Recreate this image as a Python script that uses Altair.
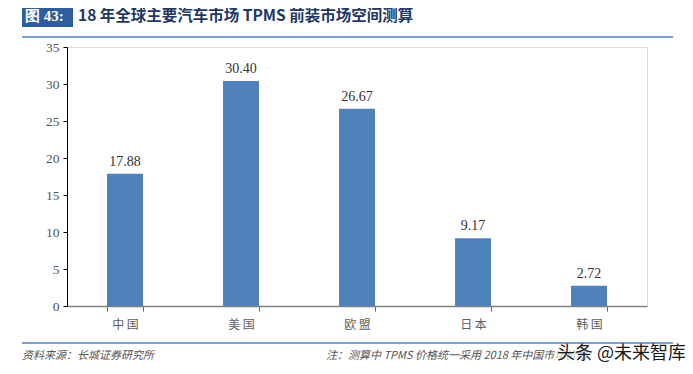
import altair as alt
import pandas as pd

categories = ["中国", "美国", "欧盟", "日本", "韩国"]
values = [17.88, 30.40, 26.67, 9.17, 2.72]
y_ticks = [0, 5, 10, 15, 20, 25, 30, 35]

df = pd.DataFrame({"cat": categories, "val": values,
                   "label": [f"{v:.2f}" for v in values]})

W, H = 580, 259
BLUE = "#4F81BD"

x = alt.X("cat:N", sort=categories, title=None,
          scale=alt.Scale(paddingInner=0.69, paddingOuter=0.345),
          axis=alt.Axis(labelAngle=0, tickBand="extent", labelFont="Noto Sans CJK SC",
                        labelExpr="join(split(datum.label, ''), ' ')",
                        labelFontSize=12, labelColor="#606060", labelPadding=8,
                        domainColor="#808080", tickColor="#606060", tickSize=5,
                        domainWidth=1.5))
y = alt.Y("val:Q", title=None,
          scale=alt.Scale(domain=[0, 35]),
          axis=alt.Axis(values=y_ticks, grid=False, labelFont="Liberation Serif",
                        labelFontSize=13.5, labelColor="#555555", domainColor="#000000",
                        tickColor="#000000", tickSize=4, labelPadding=4))

bars = alt.Chart(df).mark_bar(color=BLUE).encode(x=x, y=y)
labels = alt.Chart(df).mark_text(dy=-12, font="Liberation Serif", fontSize=14,
                                 color="#333333").encode(x=x, y=y, text="label:N")

one = pd.DataFrame({"a": [0]})
title_box = alt.Chart(one).mark_rect(color="#2E5E9E").encode(
    x=alt.value(-45), x2=alt.value(6), y=alt.value(-42), y2=alt.value(-20))
title_tag = alt.Chart(one).mark_text(text="图 43:", align="left", baseline="middle",
                                     font="Liberation Serif", fontWeight="bold",
                                     fontSize=15, color="white").encode(
    x=alt.value(-42), y=alt.value(-31))
title_txt = alt.Chart(one).mark_text(text="18 年全球主要汽车市场 TPMS 前装市场空间测算",
                                     align="left", baseline="middle",
                                     font="Noto Sans CJK SC", fontWeight="bold",
                                     fontSize=15.5, color="#1F3864").encode(
    x=alt.value(11), y=alt.value(-31))
top_line = alt.Chart(one).mark_rule(color=BLUE, strokeWidth=1.5).encode(
    x=alt.value(-45), x2=alt.value(606), y=alt.value(-10))
bot_line = alt.Chart(one).mark_rule(color=BLUE, strokeWidth=1.5).encode(
    x=alt.value(-45), x2=alt.value(606), y=alt.value(296))
src = alt.Chart(one).mark_text(text="资料来源：长城证券研究所", align="left",
                               baseline="middle", font="Noto Sans CJK SC",
                               fontStyle="italic", fontSize=11, color="#555555").encode(
    x=alt.value(-45), y=alt.value(309))
note = alt.Chart(one).mark_text(text="注：测算中 TPMS 价格统一采用 2018 年中国市场价格",
                                align="left", baseline="middle", font="Noto Sans CJK SC",
                                fontStyle="italic", fontSize=11, color="#555555").encode(
    x=alt.value(259), y=alt.value(309))
wm_bg = alt.Chart(one).mark_rect(color="white", opacity=0.6).encode(
    x=alt.value(488), x2=alt.value(612), y=alt.value(297), y2=alt.value(318))
wm = alt.Chart(one).mark_text(text="头条 @未来智库", align="left", baseline="middle",
                              font="Noto Sans CJK SC", fontSize=18, color="#1a1a1a").encode(
    x=alt.value(490), y=alt.value(307))

chart = alt.layer(bars, labels, title_box, title_tag, title_txt, top_line, bot_line,
                  src, note, wm_bg, wm).properties(
    width=W, height=H,
    autosize=alt.AutoSizeParams(type="none"),
    padding={"left": 59, "top": 39, "right": 38, "bottom": 60},
).configure_view(stroke=None).configure(background="white")

chart.save("out.html", embed_options={"renderer": "svg", "actions": False})
